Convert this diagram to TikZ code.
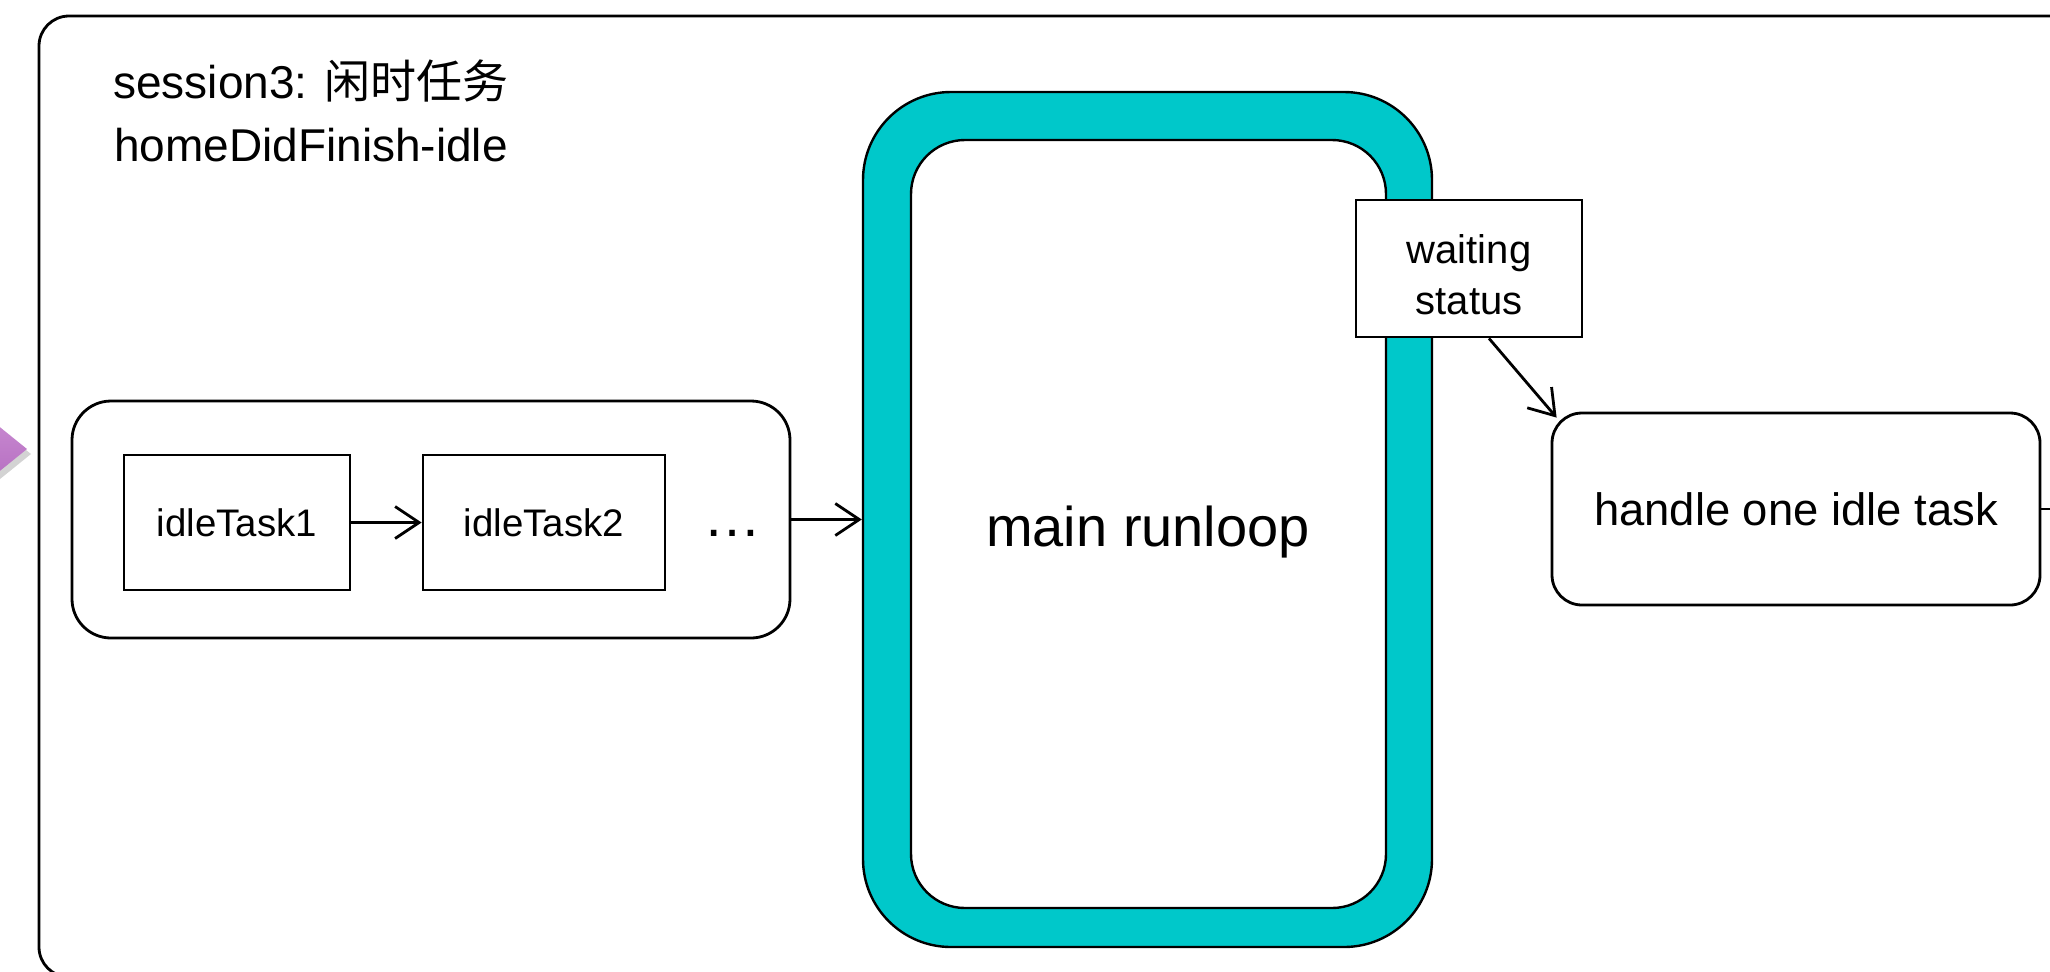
\documentclass[tikz,border=0pt]{standalone}
\usepackage{fontspec}
\setmainfont{Liberation Sans}
\newfontfamily\cjk{Noto Sans CJK SC}
\usetikzlibrary{arrows.meta,shadows,calc}

\definecolor{loopcyan}{RGB}{0,200,202}
\definecolor{pointerlight}{RGB}{204,144,212}
\definecolor{pointerdark}{RGB}{178,104,190}

\begin{document}
\begin{tikzpicture}[x=0.5pt,y=-0.5pt,
  line width=1.4pt,
  >={Straight Barb[length=12pt,width=16pt]},
  taskbox/.style={draw, fill=white, inner sep=0pt, align=center,
    minimum height=67.5pt, font=\fontsize{19.2}{22}\selectfont},
  roundbox/.style={draw, fill=white, inner sep=0pt, align=center},
  bigtext/.style={font=\fontsize{23}{31.5}\selectfont}]
\useasboundingbox (0,0) rectangle (2050,971);

% session frame (continues past the right and bottom edges)
\draw[rounded corners=15pt] (39,16) rectangle (2120,977);

% incoming pointer from the left
\path[top color=pointerlight, bottom color=pointerdark,
      drop shadow={shadow xshift=2pt, shadow yshift=-2.5pt, opacity=0.35}]
  (-30,403) -- (27,449) -- (-30,495) -- cycle;

% title
\node[bigtext, align=center] (title) at (311,111)
  {session3: {\cjk 闲时任务}\\homeDidFinish-idle};

% queue of idle tasks
\node[roundbox, rounded corners=19.5pt, minimum width=359pt,
      minimum height=118.5pt] (group) at (431,519.5) {};
\node[taskbox, minimum width=113pt] (t1) at (237,522.5) {idleTask1};
\node[taskbox, minimum width=121pt] (t2) at (544,522.5) {idleTask2};
\node[font=\fontsize{29}{29}\selectfont, inner sep=0pt] (dots) at (732,533) {…};

% main runloop ring
\node[draw, line width=1.2pt, fill=loopcyan, rounded corners=44pt,
      minimum width=284.5pt, minimum height=427.5pt, inner sep=0pt]
  (loop) at (1147.5,519.5) {};
\node[roundbox, line width=1.2pt, rounded corners=27pt, minimum width=237.5pt,
      minimum height=384pt] (core) at (1148.5,524) {};
\node[font=\fontsize{28}{32}\selectfont, inner sep=0pt] (looplabel)
  at (1148,532) {main runloop};

% waiting status tag
\node[roundbox, minimum width=113pt, minimum height=68.5pt] (ws) at (1469,268.5) {};
\node[font=\fontsize{20}{25.5}\selectfont, align=center, inner sep=0pt]
  (wslabel) at (1469,275) {waiting\\status};

% handler
\node[roundbox, rounded corners=15pt, minimum width=244pt, minimum height=96pt,
      font=\fontsize{22.7}{27}\selectfont] (handle) at (1796,509) {handle one idle task};
\coordinate (out) at (2080,509);

% connectors
\draw[->] (t1) -- (t2);
\draw[->] (group) -- (loop);
\draw[->] ($(ws.south)+(20,0)$) -- ($(handle.north west)+(6,6)$);
\draw[->] (handle) -- (out);
\end{tikzpicture}
\end{document}
